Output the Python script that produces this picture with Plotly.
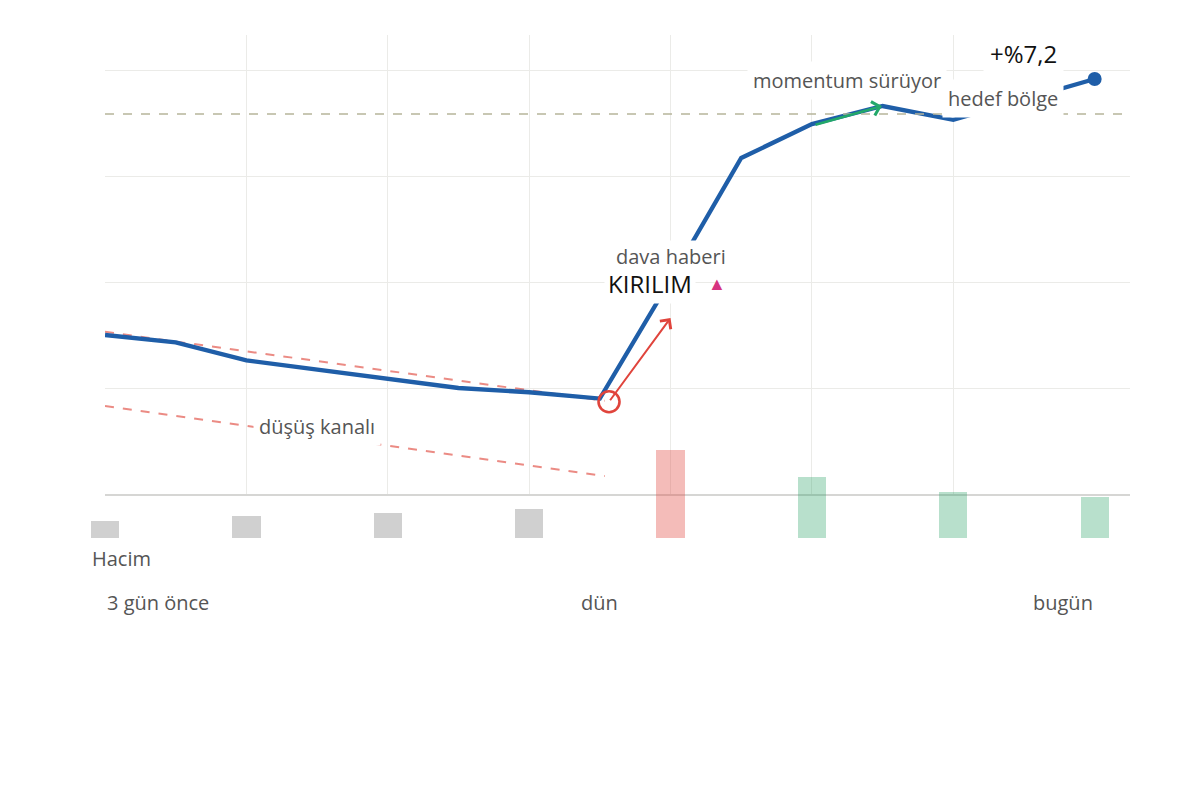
import plotly.graph_objects as go

# ---------------- data ----------------
steps = list(range(15))
price = [33.50, 33.43, 33.26, 33.17, 33.085, 33.00, 32.96, 32.90,
         34.02, 35.17, 35.49, 35.66, 35.53, 35.72, 35.915]

vol_steps = [0, 2, 4, 6, 8, 10, 12, 14]
volume = [1.2, 1.6, 1.8, 2.1, 6.2, 4.3, 3.3, 2.9]
vol_kind = ["flat", "flat", "flat", "flat", "down", "up", "up", "up"]

channel_x = [0, 7.07]
channel_upper = [33.53, 32.88]
channel_lower = [32.83, 32.17]

target_level = 35.585
breakout_x, breakout_y = 7.13, 32.87
breakout_arrow_to = (8.0, 33.66)
momentum_from = (10.03, 35.48)
momentum_to = (10.99, 35.66)

time_labels = ["3 gün önce", "dün", "bugün"]
time_label_steps = [0, 7, 14]
change_label = "+%7,2"

# ---------------- styling ----------------
FONT = "Open Sans"
BLUE = "#1f5ea8"
RED = "#e0443c"
GREEN = "#22a86a"
GRAY_TXT = "#555555"
GRID = "#ebebe8"

kind_color = {"flat": "rgba(150,150,150,0.45)",
              "down": "rgba(226,80,70,0.38)",
              "up": "rgba(40,160,100,0.33)"}

W, H = 1200, 812
def px_x(p):
    return p / W
def px_y(p):
    return (H - p) / H

fig = go.Figure()

# volume bars (own subplot below the price area)
fig.add_trace(go.Bar(x=vol_steps, y=volume, width=0.4,
                     marker=dict(color=[kind_color[k] for k in vol_kind], line=dict(width=0)),
                     xaxis="x2", yaxis="y2", hoverinfo="skip"))

# channel lines
for ch in (channel_upper, channel_lower):
    fig.add_trace(go.Scatter(x=channel_x, y=ch, mode="lines",
                             line=dict(color="rgba(226,90,80,0.7)", width=2, dash="dash"),
                             hoverinfo="skip"))

# target line
fig.add_hline(y=target_level, line=dict(color="#b7b59b", width=1.5, dash="dash"))

# price line
fig.add_trace(go.Scatter(x=steps, y=price, mode="lines",
                         line=dict(color=BLUE, width=4.3),
                         hoverinfo="skip"))
fig.add_trace(go.Scatter(x=[steps[-1]], y=[price[-1]], mode="markers",
                         marker=dict(color=BLUE, size=14), hoverinfo="skip"))

# breakout circle
fig.add_trace(go.Scatter(x=[breakout_x], y=[breakout_y], mode="markers",
                         marker=dict(symbol="circle-open", size=21, color=RED,
                                     line=dict(width=2.6, color=RED)),
                         hoverinfo="skip"))

ann = []
# arrows
ann.append(dict(x=breakout_arrow_to[0], y=breakout_arrow_to[1], ax=breakout_x, ay=breakout_y,
                xref="x", yref="y", axref="x", ayref="y", text="", showarrow=True,
                arrowhead=4, arrowwidth=2, arrowsize=1.3, arrowcolor=RED, standoff=0))
ann.append(dict(x=momentum_to[0], y=momentum_to[1], ax=momentum_from[0], ay=momentum_from[1],
                xref="x", yref="y", axref="x", ayref="y", text="", showarrow=True,
                arrowhead=4, arrowwidth=2.5, arrowsize=1.1, arrowcolor=GREEN, standoff=0))

def label(text, x, y, size=20, color=GRAY_TXT, pad=5, xanchor="center", **kw):
    d = dict(text=text, x=x, y=y, xref="x", yref="y", showarrow=False,
             font=dict(family=FONT, size=size, color=color),
             bgcolor="white", borderpad=pad, xanchor=xanchor, yanchor="middle")
    d.update(kw)
    return d

ann.append(label("düşüş kanalı", 3.0, 32.64))
ann.append(label("KIRILIM", 7.71, 33.99, size=24, color="#111111", pad=3))
ann.append(label("dava haberi", 8.0, 34.24, pad=2))
ann.append(dict(text="▲", x=8.66, y=33.99, xref="x", yref="y", showarrow=False,
                font=dict(family=FONT, size=18, color="#d6337f"),
                xanchor="center", yanchor="middle"))
ann.append(label("momentum sürüyor", 10.5, 35.90))
ann.append(label("hedef bölge", 12.7, 35.73))
ann.append(label(change_label, 12.99, 36.16, size=24, color="#111111", pad=6))

# bottom labels
anchors = ["left", "center", "right"]
for t, s, a in zip(time_labels, time_label_steps, anchors):
    ann.append(dict(text=t, x=s, y=px_y(602), xref="x", yref="paper", showarrow=False,
                    xanchor=a, yanchor="middle",
                    font=dict(family=FONT, size=20, color=GRAY_TXT)))
ann.append(dict(text="Hacim", x=px_x(90), y=px_y(558), xref="paper", yref="paper",
                showarrow=False, xanchor="left", yanchor="middle",
                font=dict(family=FONT, size=20, color=GRAY_TXT)))

x_range = [0, 14.5]
px_per_unit = (1130 - 105) / (x_range[1] - x_range[0])
x2_left = 88
x2_range = [-(105 - x2_left) / px_per_unit, 14.5]

fig.update_layout(
    width=W, height=H,
    margin=dict(l=0, r=0, t=0, b=0),
    paper_bgcolor="white", plot_bgcolor="rgba(0,0,0,0)",
    showlegend=False,
    font=dict(family=FONT, color=GRAY_TXT),
    xaxis=dict(domain=[px_x(105), px_x(1130)], range=x_range,
               tickvals=[2, 4, 6, 8, 10, 12], showticklabels=False, ticks="",
               showgrid=True, gridcolor=GRID, gridwidth=1, zeroline=False,
               showline=True, linecolor="#d6d6d4", linewidth=1.5, fixedrange=True),
    yaxis=dict(domain=[px_y(494), px_y(35)], range=[32, 32 + 459 / 106],
               tickvals=[33, 34, 35, 36], showticklabels=False, ticks="",
               showgrid=True, gridcolor=GRID, gridwidth=1, zeroline=False,
               showline=False, fixedrange=True),
    xaxis2=dict(domain=[px_x(x2_left), px_x(1130)], range=x2_range, anchor="y2",
                visible=False, showgrid=False, zeroline=False, fixedrange=True),
    yaxis2=dict(domain=[px_y(538), px_y(438.6)], range=[0, 7], anchor="x2",
                visible=False, showgrid=False, zeroline=False, fixedrange=True),
    annotations=ann,
    bargap=0,
)

fig.write_html("out.html", config={"displayModeBar": False})
